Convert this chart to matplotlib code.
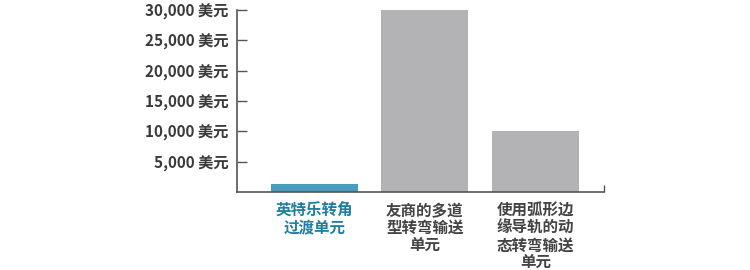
import matplotlib
matplotlib.use("Agg")
import matplotlib.pyplot as plt

plt.rcParams['font.family'] = ['Noto Sans CJK SC', 'DejaVu Sans']

categories = ["英特乐转角\n过渡单元", "友商的多道\n型转弯输送\n单元", "使用弧形边\n缘导轨的动\n态转弯输送\n单元"]
values = [1300, 30000, 10000]
yticks = [5000, 10000, 15000, 20000, 25000, 30000]
ytick_labels = ["5,000 美元", "10,000 美元", "15,000 美元", "20,000 美元", "25,000 美元", "30,000 美元"]

bar_colors = ["#4a9cbc", "#b3b3b6", "#b3b3b6"]
label_colors = ["#1f7f9e", "#444444", "#444444"]
axis_color = "#555555"

fig = plt.figure(figsize=(7.5, 2.7), dpi=100)
ax = fig.add_axes([0.316, 0.289, 0.489, 0.674])

x = list(range(len(categories)))
ax.bar(x, values, width=0.79, color=bar_colors, edgecolor='none')

ax.set_ylim(0, 30000)
ax.set_xlim(-0.70, 2.62)

ax.set_yticks(yticks)
ax.set_yticklabels(ytick_labels, fontsize=11, fontweight='bold', color="#3a3a3a")
ax.tick_params(axis='y', direction='in', length=7, width=1, color=axis_color, pad=6)

ax.set_xticks(x)
ax.set_xticklabels(categories, fontsize=11.2, fontweight='bold', linespacing=1.08)
for lbl, c in zip(ax.get_xticklabels(), label_colors):
    lbl.set_color(c)
ax.tick_params(axis='x', which='major', length=0, pad=8)
ax.set_xticks([2.62], minor=True)
ax.tick_params(axis='x', which='minor', direction='in', length=5, width=1, color=axis_color)

for s in ['top', 'right']:
    ax.spines[s].set_visible(False)
for s in ['left', 'bottom']:
    ax.spines[s].set_color(axis_color)
    ax.spines[s].set_linewidth(1.2)

fig.savefig("out.png", dpi=100)
